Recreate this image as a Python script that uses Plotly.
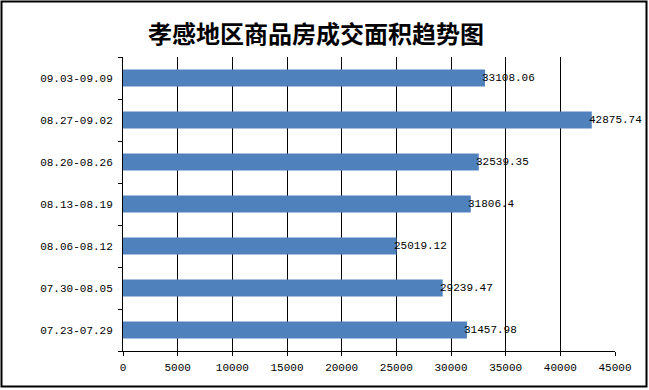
import plotly.graph_objects as go

categories = ["07.23-07.29", "07.30-08.05", "08.06-08.12", "08.13-08.19",
              "08.20-08.26", "08.27-09.02", "09.03-09.09"]
values = [31457.98, 29239.47, 25019.12, 31806.4, 32539.35, 42875.74, 33108.06]
value_labels = ["31457.98", "29239.47", "25019.12", "31806.4", "32539.35", "42875.74", "33108.06"]
x_ticks = [0, 5000, 10000, 15000, 20000, 25000, 30000, 35000, 40000, 45000]
title_text = "孝感地区商品房成交面积趋势图"

W, H = 649, 390
L, R, T, B = 123, 34, 57, 39
pw, ph = W - L - R, H - T - B
MONO = "Liberation Mono, DejaVu Sans Mono, monospace"

fig = go.Figure(go.Bar(
    y=categories, x=values, orientation="h",
    marker=dict(color="#4F81BD", line=dict(width=0)),
    hoverinfo="x+y",
))

for c, v, t in zip(categories, values, value_labels):
    fig.add_annotation(x=v, y=c, xref="x", yref="y", text=t, showarrow=False,
                       xanchor="left", yanchor="middle", xshift=-5,
                       font=dict(family=MONO, size=11, color="black"))

def px_to_paper_x(p):
    return (p - L) / pw

def px_to_paper_y(p):
    return (H - B - p) / ph

fig.update_layout(
    width=W, height=H,
    margin=dict(l=L, r=R, t=T, b=B, autoexpand=False),
    paper_bgcolor="white", plot_bgcolor="white",
    bargap=0.595,
    showlegend=False,
    title=dict(text=title_text, x=316 / W, xref="container", xanchor="center",
               y=1 - 35 / H, yref="container", yanchor="middle",
               font=dict(family="Noto Sans CJK SC", size=24, color="black", weight="bold")),
    xaxis=dict(range=[0, 45000], tickvals=x_ticks, ticktext=[str(v) for v in x_ticks],
               showgrid=True, gridcolor="black", gridwidth=1,
               showline=True, linecolor="black", linewidth=1,
               ticks="outside", ticklen=4, tickcolor="black",
               zeroline=False, automargin=False, ticklabelstandoff=2,
               tickfont=dict(family=MONO, size=11, color="black")),
    yaxis=dict(categoryorder="array", categoryarray=categories,
               showline=True, linecolor="black", linewidth=1,
               ticks="outside", ticklen=4, tickcolor="black", tickson="boundaries",
               showgrid=False, automargin=False, ticklabelstandoff=7,
               tickfont=dict(family=MONO, size=11, color="black")),
    shapes=[dict(type="rect", xref="paper", yref="paper",
                 x0=px_to_paper_x(1.5), x1=px_to_paper_x(646.5),
                 y0=px_to_paper_y(386.5), y1=px_to_paper_y(1.5),
                 line=dict(color="black", width=2), fillcolor="rgba(0,0,0,0)", layer="above")],
)

fig.write_html("out.html", config={"displayModeBar": False},
               post_script="document.body.style.margin='0';document.body.style.overflow='hidden';")
